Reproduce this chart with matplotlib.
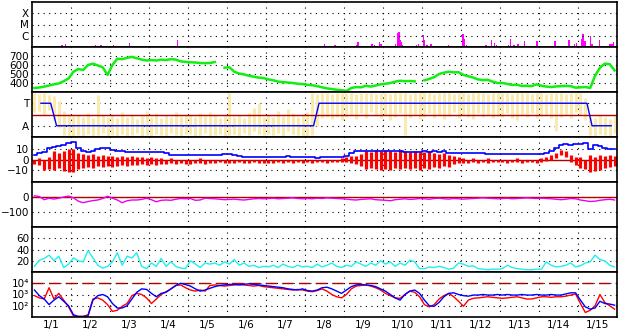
import numpy as np
import matplotlib.pyplot as plt
from matplotlib.ticker import NullLocator

# time axis: 15 days starting 1/1, sampled every 3 hours
t = (np.arange(120) + 0.5) * 0.125
day_labels = ["1/%d" % d for d in range(1, 16)]

# x-ray flares (day, level above baseline)
flare_t = [0.77, 0.85, 1.62, 1.67, 1.72, 1.77, 1.82, 2.08, 2.26, 2.38, 2.51, 3.74,
           7.51, 7.77, 8.31, 8.36, 8.46, 8.56, 8.67, 8.72, 8.79, 8.90, 8.95, 9.31,
           9.38, 9.41, 9.44, 9.46, 9.49, 9.85, 9.92, 10.03, 10.05, 10.13, 10.23, 10.67,
           11.05, 11.10, 11.15, 11.64, 11.79, 11.85, 11.92, 12.21, 12.26, 12.36, 12.46,
           12.62, 12.95, 12.97, 13.41, 13.77, 13.90, 13.97, 14.08, 14.13, 14.18, 14.31,
           14.36, 14.56, 14.82, 14.87, 14.92]
flare_h = [0.18, 0.27, 0.18, 0.10, 0.12, 0.15, 0.10, 0.18, 0.10, 0.12, 0.33, 0.62,
           0.27, 0.18, 0.15, 0.47, 0.12, 0.12, 0.12, 0.27, 0.20, 0.47, 0.30, 0.25,
           1.24, 1.36, 0.62, 0.45, 0.20, 0.15, 0.30, 1.07, 0.62, 0.15, 0.27, 0.20,
           1.20, 0.70, 0.20, 0.15, 0.60, 0.40, 0.20, 0.15, 0.67, 0.20, 0.30,
           0.50, 0.50, 0.30, 0.50, 0.60, 0.30, 0.40, 0.73, 1.20, 0.50, 0.95,
           0.30, 0.62, 0.25, 0.30, 0.45]

# solar wind speed
speed = [345, 350, 360, 372, 385, 395, 420, 450,
         525, 555, 545, 600, 615, 595, 575, 490,
         600, 670, 665, 680, 690, 675, 660, 650,
         655, 650, 660, 655, 665, 660, 640, 635,
         630, 628, 622, 620, 622, 633, np.nan, 570,
         575, 525, 505, 495, 480, 470, 460, 455,
         440, 430, 415, 410, 405, 400, 392, 388,
         380, 375, 365, 352, 340, 333, 325, 320,
         312, 345, 355, 352, 370, 360, 372, 385,
         392, 400, 415, 425, 420, 422, 418, np.nan,
         430, 445, 465, 500, 515, 525, 518, 520,
         490, 475, 460, 440, 432, 435, 415, 400,
         400, 390, 378, 380, 367, 370, 365, 385,
         370, 360, 355, 362, 365, 368, 365, 348,
         352, 355, 345, 480, 570, 615, 610, 540]

# sector polarity spread (upper / lower per 3 h) and sector boundary
polar_hi = [1.9, 1.8, 1.9, 1.7, 1.6, 1.2, 0.3, 0.0,
            -0.1, 0.0, -0.2, 0.1, -0.3, 1.7, 0.0, -0.2,
            0.0, -0.3, 0.2, -0.2, 0.0, -0.4, -0.1, 0.3,
            -0.2, 0.1, -0.3, 0.0, -0.2, 0.2, -0.1, 0.0,
            0.0, -0.2, 0.1, -0.1, 0.2, 0.0, -0.3, -0.1,
            1.9, -0.2, 0.0, -0.3, 0.1, 0.6, 1.0, -0.2,
            0.0, -0.2, 0.3, -0.1, 0.5, 0.1, -0.2, 0.0,
            0.2, 1.9, 1.8, 1.9, 1.9, 1.8, 1.9, 1.9,
            1.9, 1.9, 1.8, 1.9, 1.9, 1.9, 1.8, 1.9,
            1.9, 1.8, 1.9, 1.9, 1.9, 1.8, 1.9, 1.9,
            1.9, 1.9, 1.8, 1.9, 1.9, 1.9, 1.8, 1.9,
            1.9, 1.8, 1.9, 1.9, 1.9, 1.8, 1.9, 1.9,
            1.9, 1.9, 1.8, 1.9, 1.9, 1.9, 1.8, 1.9,
            1.9, 1.8, 1.9, 1.9, 1.9, 1.8, 1.9, 1.9,
            1.9, 1.5, -0.2, -0.3, 0.0, -0.2, -0.4, -0.1]
polar_lo = [0.2, 0.3, 0.0, 0.4, -0.5, -1.2, -1.8, -1.9,
            -1.9, -1.8, -1.9, -1.7, -1.9, -1.8, -1.6, -1.9,
            -1.8, -1.9, -1.7, -1.9, -1.8, -1.6, -1.9, -1.8,
            -1.9, -1.7, -1.8, -1.9, -1.6, -1.8, -1.9, -1.7,
            -1.7, -1.9, -1.8, -1.6, -1.9, -1.8, -1.7, -1.9,
            -1.8, -1.7, -1.9, -1.6, -1.8, -1.5, -1.7, -1.8,
            -1.7, -1.8, -1.6, -1.9, -1.5, -1.7, -1.8, -1.9,
            -1.9, -1.8, -1.0, -0.3, -0.2, -0.4, -0.2, -0.5,
            -0.2, 0.0, -0.4, 0.1, -0.3, 0.2, -0.1, -0.3,
            0.0, -0.5, -0.2, 0.1, -1.8, -0.3, 0.0, -0.4,
            -0.2, 0.1, -0.3, 0.0, -0.4, -0.1, 0.2, -0.3,
            0.0, -0.2, -0.4, 0.1, -0.2, 0.0, -0.3, -0.1,
            -0.2, 0.1, -0.3, -0.5, 0.0, -0.2, 0.1, -0.3,
            -0.1, 0.0, -0.3, -1.5, -0.2, 0.0, -0.3, 0.2,
            0.0, -0.5, -1.8, -1.9, -1.7, -1.8, -1.9, -1.6]
sector_t = [0.23, 0.48, 0.63, 7.22, 7.36, 14.23, 14.36, 14.85]
sector_v = [1, 1, -1, -1, 1, 1, -1, -1]

# IMF Bt and Bz spread (nT)
bt = [4, 6, 7, 11, 12, 13, 14, 16,
      17, 11, 8, 7, 8, 10, 11, 11,
      9, 8, 8, 7, 7, 7, 7, 7,
      7, 7, 7, 6, 4, 4, 4, 4,
      4, 4, 4, 4, 4, 4, 4, 5,
      5, 4, 3, 2.5, 2.5, 2.5, 2.5, 2.5,
      2.5, 2.5, 2.5, 2.5, 3, 2.5, 2.5, 2.5,
      2.5, 2.5, 1.5, 2, 2.5, 2.5, 2.5, 2.5,
      3, 6, 8, 8, 8, 8, 8, 8,
      8, 8, 8, 8, 7, 7, 7, 7,
      8, 7, 8, 7, 8, 6, 6, 6,
      6, 6, 6, 6, 6, 5.5, 5.5, 5.5,
      5.5, 5.5, 5.5, 5.5, 5.5, 5.5, 5.5, 5.5,
      5.5, 6, 8, 11, 14, 15, 14, 15,
      15, 16, 10, 14, 13, 11, 10, 10]
bz_hi = [0, 1, 0, 2, 8, 6, 8, 10,
         10, 6, 5, 4, 5, 3, 4, 3,
         3, 2, 3, 2, 3, 2, 2, 1,
         2, 1, 1, 0, 1, 0, 0, 0,
         0, 0, 1, 0, 0, 0, 0, 0,
         0, 0, 0, 0, 0, 0, 0, 0,
         0, 0, 0, -0.5, 0, 0, 0, 0,
         0, 0, 0, 0, 0, 0, 0, 1,
         2, 3, 3, 5, 8, 7, 9, 8,
         9, 8, 7, 9, 8, 7, 8, 7,
         7, 8, 6, 5, 6, 4, 3, 2,
         1, 0, 1, 0, 0, 1, 0, 0,
         0, 0, 0, 1, 0, 0, 0, 0,
         1, 2, 4, 6, 9, 8, 4, 2,
         2, 0, 4, 2, 4, 3, 4, 3]
bz_lo = [-4, -5, -10, -9, -10, -8, -11, -12,
         -12, -9, -8, -7, -8, -6, -7, -6,
         -7, -6, -5, -6, -5, -5, -4, -5,
         -4, -5, -4, -4, -3, -4, -3, -4,
         -4, -3, -3, -4, -3, -3, -2, -3,
         -3, -3, -2, -3, -3, -2, -3, -3,
         -3, -3, -2, -3, -2, -3, -2, -3,
         -2, -3, -2, -2, -3, -2, -2, -2,
         -2, -3, -4, -6, -9, -8, -9, -10,
         -9, -10, -8, -9, -8, -9, -8, -10,
         -8, -9, -7, -8, -6, -7, -4, -3,
         -3, -3, -2, -3, -2, -3, -2, -2,
         -2, -3, -2, -2, -3, -2, -2, -3,
         -2, -1, 0, 1, 4, 2, -2, -5,
         -8, -9, -12, -11, -10, -8, -7, -6]

# Dst index (nT)
dst = [8, 3, -18, -8, -14, -8, 0, 6,
       -5, -28, -38, -30, -24, -20, -10, 5,
       -8, -20, -38, -25, -20, -20, -16, -8,
       -18, -32, -22, -20, -22, -15, -10, -12,
       -10, -22, -20, -8, -10, -12, -15, -18,
       -16, -14, -18, -20, -16, -12, -10, -12,
       -10, -8, -12, -10, -8, -6, -10, -12,
       -10, -12, -8, -10, -6, -8, -10, -12,
       -14, -18, -20, -16, -14, -12, -18, -20,
       -22, -25, -18, -15, -12, -16, -14, -10,
       -12, -15, -10, -8, -12, -14, -10, -12,
       -14, -12, -10, -8, -6, -8, -10, -12,
       -10, -8, -12, -10, -8, -6, -8, -10,
       -8, -10, -12, -15, -18, -15, -10, -12,
       -20, -25, -30, -28, -22, -18, -15, -20]

# AE-like activity index
act = [10, 21, 24, 30, 20, 28, 8, 14,
       25, 20, 18, 38, 25, 12, 7, 10,
       18, 34, 12, 28, 25, 34, 10, 6,
       16, 10, 24, 10, 18, 10, 7, 6,
       20, 14, 8, 16, 14, 16, 12, 18,
       14, 22, 12, 16, 10, 12, 8, 10,
       9, 12, 8, 14, 10, 8, 12, 9,
       10, 8, 14, 9, 12, 16, 10, 8,
       12, 10, 18, 14, 10, 16, 12, 20,
       14, 18, 10, 16, 12, 21, 18, 6,
       6, 9, 8, 10, 8, 5, 7, 16,
       14, 10, 11, 6, 5, 4, 5, 5,
       6, 12, 8, 6, 5, 4, 4, 5,
       5, 18, 12, 9, 10, 12, 16, 9,
       11, 16, 18, 30, 22, 20, 12, 9]

# electron flux (log10)
flux_blue = [3.4, 2.9, 2.6, 2.1, 2.5, 2.8, 2.4, 2.0,
             1.2, 1.05, 1.05, 1.1, 2.5, 2.9, 3.0, 2.8,
             2.2, 1.8, 1.8, 2.0, 2.6, 3.2, 3.5, 3.45,
             3.1, 2.8, 3.1, 3.2, 3.5, 3.8, 4.0, 3.88,
             3.75, 3.5, 3.3, 3.4, 3.55, 3.7, 3.8, 3.85,
             3.9, 3.9, 3.85, 3.9, 3.95, 3.9, 3.85, 3.8,
             3.75, 3.7, 3.65, 3.6, 3.5, 3.45, 3.4, 3.5,
             3.35, 3.3, 3.4, 3.6, 3.65, 3.5, 3.3, 3.1,
             3.4, 3.7, 3.85, 3.9, 3.85, 3.8, 3.7, 3.5,
             3.3, 3.0, 2.7, 2.5, 3.0, 3.3, 3.4, 3.1,
             2.5, 2.0, 1.95, 2.3, 2.8, 3.1, 3.15, 3.0,
             2.9, 2.85, 2.95, 2.95, 3.0, 2.95, 2.95, 3.0,
             2.95, 3.0, 2.95, 2.95, 3.0, 2.95, 2.95, 3.0,
             2.95, 2.95, 3.0, 2.95, 2.95, 3.05, 3.15, 3.15,
             2.5, 1.9, 1.7, 1.8, 2.4, 2.2, 2.15, 2.05]
flux_red = [2.9, 2.7, 2.6, 3.6, 2.6, 3.1, 2.5, 1.9,
            1.1, 1.05, 1.05, 1.2, 2.6, 2.7, 2.5, 2.1,
            1.5, 1.6, 1.95, 2.2, 2.9, 3.1, 3.0, 2.7,
            2.2, 2.6, 3.0, 3.25, 3.5, 3.8, 3.85, 3.6,
            3.4, 3.3, 3.4, 3.3, 3.8, 3.85, 3.8, 3.75,
            3.8, 3.85, 3.9, 3.85, 3.8, 3.75, 3.8, 3.7,
            3.65, 3.6, 3.55, 3.5, 3.45, 3.4, 3.45, 3.4,
            3.3, 3.25, 3.35, 3.5, 3.3, 3.0, 2.8, 2.7,
            3.0, 3.5, 3.75, 3.8, 3.85, 3.75, 3.6, 3.4,
            3.1, 2.9, 2.7, 2.66, 3.0, 3.3, 3.2, 2.8,
            2.1, 1.9, 2.1, 2.6, 2.9, 3.1, 2.8, 2.4,
            1.95, 2.5, 2.66, 2.7, 2.75, 2.8, 2.75, 2.7,
            2.66, 2.7, 2.75, 2.8, 2.7, 2.6, 2.6, 2.7,
            2.8, 2.8, 2.75, 2.8, 2.8, 2.85, 2.95, 3.05,
            2.2, 1.4, 1.6, 2.0, 3.0, 2.3, 2.0, 1.7]
flux_ticks = [1e2, 1e3, 1e4]
flux_labels = ["10\u00b2", "10\u00b3", "10\u2074"]

DOT = (0, (1, 4))
DARKRED = "#b00000"

fig, axes = plt.subplots(7, 1, sharex=True, figsize=(6.28, 3.34), dpi=100)
fig.subplots_adjust(left=32 / 628, right=617 / 628, top=1 - 2 / 334,
                    bottom=1 - 317 / 334, hspace=0)

ax = axes[0]
ax.bar(flare_t, flare_h, width=0.03, color="#ff00ff", align="center")
ax.set_ylim(0, 4)
ax.set_yticks([1, 2, 3], ["C", "M", "X"])

ax = axes[1]
ax.plot(t, speed, color="#11ee11", lw=1.8)
ax.set_ylim(300, 800)
ax.set_yticks([400, 500, 600, 700])

ax = axes[2]
ax.vlines(t, polar_lo, polar_hi, color="#faeaae", lw=2.2)
ax.axhline(0, color=DARKRED, lw=1)
ax.plot(sector_t, sector_v, color="#0000ff", lw=1)
ax.set_ylim(-2, 2)
ax.set_yticks([-1, 1], ["A", "T"])

ax = axes[3]
ax.axhline(0, color=DARKRED, lw=1)
ax.vlines(t, bz_lo, bz_hi, color="#ff0000", lw=2.3)
ax.plot(t, bt, color="#0000ff", lw=1.2, drawstyle="steps-mid")
ax.set_ylim(-21.5, 21.5)
ax.set_yticks([-10, 0, 10])

ax = axes[4]
ax.axhline(0, color=DARKRED, lw=1)
ax.plot(t, dst, color="#ee00ee", lw=1)
ax.set_ylim(-200, 100)
ax.set_yticks([-100, 0])

ax = axes[5]
ax.plot(t, act, color="#22eeee", lw=1)
ax.set_ylim(0, 80)
ax.set_yticks([20, 40, 60])

ax = axes[6]
ax.set_yscale("log")
ax.axhline(1e4, color=DARKRED, lw=1, linestyle=(0, (8, 4)))
ax.plot(t, 10 ** np.array(flux_red), color="#ff0000", lw=1)
ax.plot(t, 10 ** np.array(flux_blue), color="#0000ff", lw=1)
ax.set_ylim(10, 1e5)
ax.set_yticks(flux_ticks, flux_labels)
ax.yaxis.set_minor_locator(NullLocator())

for ax in axes:
    ax.set_xlim(0, 15)
    ax.set_xticks(np.arange(1, 15))
    ax.set_xticks(np.arange(15) + 0.5, day_labels, minor=True)
    ax.grid(True, which="major", color="black", lw=0.8, linestyle=DOT)
    ax.tick_params(which="both", length=0, labelsize=7.5, pad=2)
    ax.tick_params(axis="x", which="major", labelbottom=False)
    for s in ax.spines.values():
        s.set_linewidth(1.2)

plt.savefig("out.png")
